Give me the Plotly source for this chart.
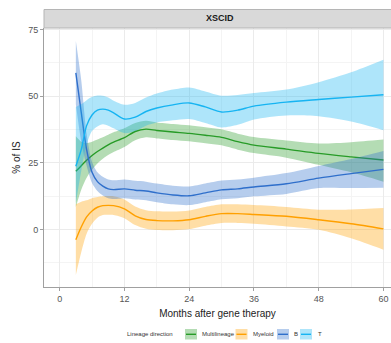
import plotly.graph_objects as go

# Smoothed share of integration sites (%) per lineage, with confidence bands
months = [3, 4, 5, 6, 7, 8, 9, 10, 12, 14, 16, 18, 21, 24, 27, 30, 33, 36, 42, 48, 54, 60]

multi_fit = [21.9, 24, 26, 27.8, 29.3, 30.6, 31.8, 32.8, 34.5, 36.8, 37.7, 37.2, 36.6, 36.1, 35.4, 34.6, 33, 31.7, 30.2, 28.6, 27.3, 26.1]
multi_hi = [35, 33, 32.5, 33, 33.8, 34.6, 35.6, 36.5, 38, 40, 40.8, 40.2, 39.6, 39.1, 38.4, 37.6, 36, 34.7, 33.4, 32.3, 32.8, 33.8]
multi_lo = [8.5, 15, 19.5, 22.5, 24.8, 26.6, 28, 29.1, 31, 33.5, 34.6, 34.2, 33.6, 33.1, 32.4, 31.6, 30, 28.7, 27, 24.3, 21.5, 18]

myel_fit = [-3.75, 1, 4.8, 7, 8.4, 9, 9.1, 9, 7.8, 5.2, 3.8, 3.4, 3.3, 3.7, 5, 6, 6, 5.7, 5, 3.7, 2.2, 0.3]
myel_hi = [9.5, 10.5, 11, 11.8, 12.2, 12.5, 12.6, 12.5, 11.3, 8.7, 7.3, 6.9, 6.8, 7.2, 8.5, 9.5, 9.5, 9.2, 8.5, 7.5, 7.6, 8.1]
myel_lo = [-17, -8.5, -1.5, 2.2, 4.5, 5.5, 5.6, 5.5, 4.3, 1.7, 0.3, -0.1, -0.2, 0.2, 1.5, 2.5, 2.5, 2.2, 1.2, 0, -3.2, -7.5]

b_fit = [58.8, 44, 30, 21.5, 18, 16.3, 15.3, 15, 15.3, 14.8, 14.5, 13.8, 13, 12.7, 13.8, 14.9, 15.3, 16, 17.2, 19.3, 21, 22.6]
b_hi = [70.7, 56, 36, 25.5, 21.5, 19.8, 18.8, 18.5, 18.8, 18.3, 18, 17.3, 16.5, 16.2, 17.3, 18.4, 18.8, 19.5, 21.2, 23.9, 26.5, 29.5]
b_lo = [47, 33, 24, 17.5, 14.5, 12.8, 11.8, 11.5, 11.8, 11.3, 11, 10.3, 9.5, 9.2, 10.3, 11.4, 11.8, 12.5, 13.4, 15.6, 15.6, 15.7]

t_fit = [23.8, 30, 39, 43, 44.8, 45.2, 44.8, 43.8, 41.5, 42.2, 44.3, 45.6, 46.8, 47.5, 46, 44.1, 44.8, 46.3, 47.8, 48.8, 49.7, 50.6]
t_hi = [46, 47, 48.5, 49.8, 50.3, 50.2, 49.5, 48.3, 46.8, 47.5, 49.5, 51, 52.5, 53.3, 51.8, 50.2, 50.5, 51.2, 52.5, 55.3, 59, 63.7]
t_lo = [10, 22, 32, 37, 38.7, 39.5, 39, 38, 36.2, 37, 39, 40.2, 41, 41.5, 40, 38.3, 39.3, 41.3, 42.8, 42.5, 40.5, 37.3]

lineages = ["Multilineage", "Myeloid", "B", "T"]
line_colors = ["#279b27", "#ffa000", "#2f6fcb", "#16b4f2"]
band_colors = ["rgba(39,155,39,0.35)", "rgba(255,160,0,0.35)", "rgba(47,111,203,0.35)", "rgba(22,180,242,0.35)"]
fits = [multi_fit, myel_fit, b_fit, t_fit]
highs = [multi_hi, myel_hi, b_hi, t_hi]
lows = [multi_lo, myel_lo, b_lo, t_lo]

x_ticks = [0, 12, 24, 36, 48, 60]
y_ticks = [0, 25, 50, 75]

W, H = 391, 343
L, R, T, B = 44, 0, 28, 56
PW, PH = W - L - R, H - T - B


def px(xp):
    return (xp - L) / PW


def py(yp):
    return (H - B - yp) / PH


FONT = "Liberation Sans, Arial, sans-serif"

fig = go.Figure()
for name, lc, bc, fit, hi, lo in zip(lineages, line_colors, band_colors, fits, highs, lows):
    fig.add_trace(go.Scatter(x=months, y=lo, mode="lines", line=dict(width=0, shape="spline", smoothing=0.8),
                             showlegend=False, hoverinfo="skip"))
    fig.add_trace(go.Scatter(x=months, y=hi, mode="lines", fill="tonexty", fillcolor=bc,
                             line=dict(width=0, shape="spline", smoothing=0.8),
                             showlegend=False, hoverinfo="skip"))
    fig.add_trace(go.Scatter(x=months, y=fit, mode="lines", name=name,
                             line=dict(color=lc, width=1.4, shape="spline", smoothing=0.8),
                             showlegend=False))

axis_common = dict(
    showline=True, linecolor="#a0a0a0", linewidth=1,
    ticks="outside", ticklen=3, tickcolor="#a0a0a0",
    tickfont=dict(family=FONT, size=9, color="#555555"),
    showgrid=True, gridcolor="#ebebeb", gridwidth=1,
    zeroline=False, mirror=False,
)

fig.update_layout(
    width=W, height=H,
    margin=dict(l=L, r=R, t=T, b=B),
    paper_bgcolor="white", plot_bgcolor="white",
    showlegend=False,
    xaxis=dict(axis_common, range=[-2.9, 61.4], tickvals=x_ticks,
               minor=dict(dtick=6, tick0=0, showgrid=True, gridcolor="#f4f4f4", ticks=""),
               title=dict(text="Months after gene therapy", font=dict(family=FONT, size=10, color="#222222"),
                          standoff=7)),
    yaxis=dict(axis_common, range=[-21.5, 75.6], tickvals=y_ticks,
               minor=dict(dtick=12.5, tick0=0, showgrid=True, gridcolor="#f4f4f4", ticks=""),
               title=dict(text="% of IS", font=dict(family=FONT, size=10, color="#222222"), standoff=5)),
)

# facet strip
fig.add_shape(type="rect", xref="paper", yref="paper", x0=0, x1=1.01, y0=1, y1=py(9.5),
              fillcolor="#d9d9d9", line=dict(color="#b5b5b5", width=1), layer="above")
fig.add_annotation(text="<b>XSCID</b>", xref="paper", yref="paper", x=px(220), y=py(18.5),
                   showarrow=False, font=dict(family=FONT, size=9, color="#1a1a1a"),
                   xanchor="center", yanchor="middle")

# legend row
ly = py(334)
fig.add_annotation(text="Lineage direction", xref="paper", yref="paper", x=px(125), y=ly,
                   showarrow=False, font=dict(family=FONT, size=6, color="#333333"),
                   xanchor="left", yanchor="middle")
key_x = [185, 235.5, 277, 300]
label_x = [199.5, 251, 292, 316]
for name, lc, bc, kx, tx in zip(lineages, line_colors, band_colors, key_x, label_x):
    fig.add_shape(type="rect", xref="paper", yref="paper", x0=px(kx), x1=px(kx + 12), y0=py(329), y1=py(339.5),
                  fillcolor=bc, line=dict(width=0))
    fig.add_shape(type="line", xref="paper", yref="paper", x0=px(kx + 1), x1=px(kx + 11), y0=py(334.3), y1=py(334.3),
                  line=dict(color=lc, width=1.4))
    fig.add_annotation(text=name, xref="paper", yref="paper", x=px(tx), y=ly,
                       showarrow=False, font=dict(family=FONT, size=6, color="#333333"),
                       xanchor="left", yanchor="middle")

fig.write_html("out.html")
